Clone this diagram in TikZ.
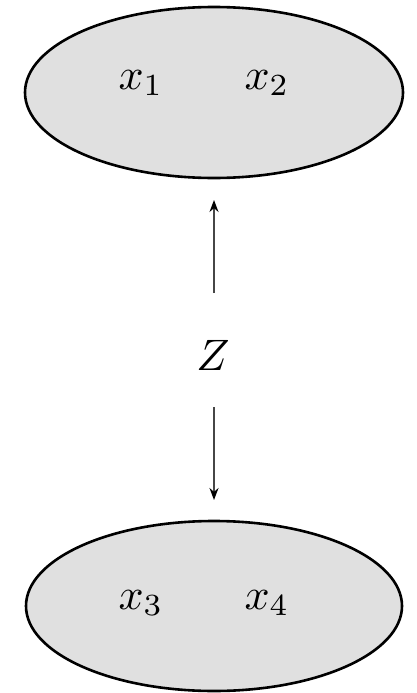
\documentclass[tikz,border=0pt]{standalone}
\usetikzlibrary{arrows.meta}
\newcommand{\mylbltext}[1]{\scalebox{4.4}{$#1$}}
\begin{document}
\begin{tikzpicture}[x=1pt,y=-1pt,
  blob/.style={draw=black,line width=2.6pt,fill={rgb,255:red,224;green,224;blue,224}},
  lbl/.style={inner sep=0pt},
  conn/.style={line width=1.6pt,draw={rgb,255:red,70;green,70;blue,70},-{Stealth[length=12pt,width=9pt,black]}}]
\useasboundingbox (0,0) rectangle (417,693);
\draw[blob] (214,92.5) ellipse [x radius=189, y radius=85.5];
\draw[blob] (214,606) ellipse [x radius=188, y radius=85];
\node[lbl] (x1) at (141,83) {\mylbltext{x_1}};
\node[lbl] (x2) at (267,83) {\mylbltext{x_2}};
\node[lbl] (x3) at (141,603) {\mylbltext{x_3}};
\node[lbl] (x4) at (267,603) {\mylbltext{x_4}};
\node[lbl] (z) at (213,355) {\mylbltext{Z}};
\coordinate (ut) at (214,293);
\coordinate (uh) at (214,200);
\coordinate (dt) at (214,407);
\coordinate (dh) at (214,500);
\draw[conn] (ut) -- (uh);
\draw[conn] (dt) -- (dh);
\end{tikzpicture}
\end{document}
